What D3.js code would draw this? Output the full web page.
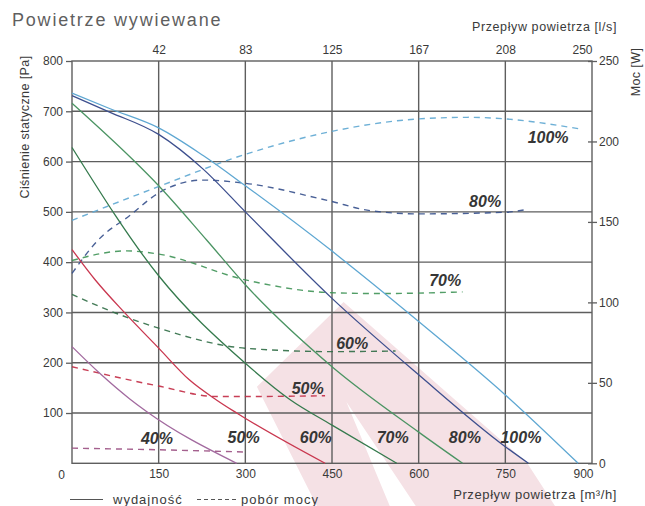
<!DOCTYPE html>
<html><head><meta charset="utf-8">
<script src="https://cdn.jsdelivr.net/npm/d3@7"></script>
<style>
html,body{margin:0;padding:0;background:#fff;}
svg{display:block;font-family:"Liberation Sans",Arial,sans-serif;}
</style></head>
<body>
<svg id="chart" width="645" height="506"></svg>
<script>
// ---- data ----
const flowTicks = [150, 300, 450, 600, 750, 900];            // m3/h
const flowLabels = ["150", "300", "450", "600", "750", "900"];
const lsLabels = ["42", "83", "125", "167", "208", "250"];    // l/s
const pressureTicks = [0, 100, 200, 300, 400, 500, 600, 700, 800];
const powerTicks = [0, 50, 100, 150, 200, 250];
const speeds = ["100%", "80%", "70%", "60%", "50%", "40%"];

// static pressure curves [flow m3/h, Pa]
const pres100 = [[0,736],[66,705],[150,667],[227,612],[300,552],[450,422],[498,378],[600,282],[750,136],[876,0]];
const pres80  = [[0,731],[66,698],[150,654],[227,585],[300,500],[450,328],[600,176],[750,33],[790,0]];
const pres70  = [[0,716],[106,603],[150,552],[233,444],[300,355],[450,192],[600,62],[676,0]];
const pres60  = [[0,628],[150,373],[300,199],[377,127],[450,76],[562,0]];
const pres50  = [[0,425],[40,365],[89,302],[150,229],[203,166],[250,126],[285,100],[438,0]];
const pres40  = [[0,232],[48,179],[100,128],[129,103],[285,0]];

// power consumption curves [flow m3/h, W]
const pow100 = [[0,151],[150,172],[300,192],[446,206],[600,214],[690,215],[750,214],[876,208]];
const pow80  = [[0,118],[46,139],[100,154],[150,168],[227,176],[300,174],[446,163],[516,157],[600,155],[750,156],[790,158]];
const pow70  = [[0,126],[94,132],[150,130],[300,114],[450,106],[533,105.5],[676,106.5]];
const pow60  = [[0,105],[71,94],[150,84],[300,71.5],[450,69.4],[560,69.8]];
const pow50  = [[0,60],[150,48],[250,41.5],[300,41.5],[438,42]];
const pow40  = [[0,9.4],[150,8.4],[300,7]];

// label anchors [flow, value]
const presLabelPos = [[777,53],[680,53],[555,53],[422,53],[297,53],[147,50]];
const powLabelPos  = [[824,203],[715,163],[646,114],[485,75],[408,47]];

// decorative watermark outline, in data units [flow, Pa]
const watermark = [[320,152],[470,321],[788,0],[836,-85],[595,-85],[475,122],[550,-85],[424,-85]];

// ---- drawing ----
const svg = d3.select("#chart");
const L = 72, R = 592, T = 61, B = 463.3;
const x = d3.scaleLinear().domain([0, 900]).range([L, R]);
const y = d3.scaleLinear().domain([0, 800]).range([B, T]);
const yW = d3.scaleLinear().domain([0, 250]).range([B, T]);

const cols = {"100%":"#5ea7d2","80%":"#3d4f8e","70%":"#4b9463","60%":"#357a4d","50%":"#c9374f","40%":"#a26a9f"};
const powCols = {"100%":"#5ea7d2","80%":"#36508c","70%":"#3f9457","60%":"#2f6d45","50%":"#c22a44","40%":"#9a4f82"};

// watermark
const wmPath = d3.line().x(d => x(d[0])).y(d => y(d[1]));
svg.append("path").attr("d", wmPath(watermark) + "Z").attr("fill", "#f5e1e5");

// grid
const grid = svg.append("g").attr("stroke", "#5e5e5e").attr("stroke-width", 1.4);
flowTicks.slice(0, -1).forEach(v => grid.append("line").attr("x1", x(v)).attr("x2", x(v)).attr("y1", T).attr("y2", B));
pressureTicks.slice(1, -1).forEach(v => grid.append("line").attr("x1", L).attr("x2", R).attr("y1", y(v)).attr("y2", y(v)));
svg.append("rect").attr("x", L).attr("y", T).attr("width", R - L).attr("height", B - T)
  .attr("fill", "none").attr("stroke", "#5e5e5e").attr("stroke-width", 1.4);

// curves
const line = (ys) => d3.line().x(d => x(d[0])).y(d => ys(d[1])).curve(d3.curveMonotoneX);
const presSets = [pres100, pres80, pres70, pres60, pres50, pres40];
const powSets = [pow100, pow80, pow70, pow60, pow50, pow40];
const curves = svg.append("g").attr("fill", "none");
powSets.forEach((s, i) => curves.append("path").attr("d", line(yW)(s))
  .attr("stroke", powCols[speeds[i]]).attr("stroke-width", 1.4).attr("stroke-dasharray", "6,5").attr("opacity", 0.9));
presSets.forEach((s, i) => curves.append("path").attr("d", line(y)(s))
  .attr("stroke", cols[speeds[i]]).attr("stroke-width", 1.3));

// percentage labels
const lab = svg.append("g").attr("font-size", 16).attr("font-weight", "bold").attr("font-style", "italic")
  .attr("fill", "#363636").attr("text-anchor", "middle");
presLabelPos.forEach((p, i) => lab.append("text").attr("x", x(p[0])).attr("y", y(p[1]) + 6).text(speeds[i]));
powLabelPos.forEach((p, i) => lab.append("text").attr("x", x(p[0])).attr("y", yW(p[1]) + 6).text(speeds[i]));

// axes
const tickFont = g => g.selectAll("text").attr("font-size", 12).attr("fill", "#3a3a3a")
  .attr("font-family", "Liberation Sans, Arial, sans-serif");
const axL = svg.append("g").attr("transform", `translate(${L},0)`)
  .call(d3.axisLeft(y).tickValues(pressureTicks).tickSize(6).tickPadding(3).tickFormat(d3.format("d")));
axL.select(".domain").remove();
axL.selectAll("line").attr("stroke", "#5e5e5e").attr("stroke-width", 1.3);
axL.selectAll(".tick").filter(d => d === 0).select("line").remove();
axL.selectAll(".tick").filter(d => d === 0).select("text").attr("dy", "1.25em").attr("x", -7);
tickFont(axL);

const axB = svg.append("g").attr("transform", `translate(0,${B})`)
  .call(d3.axisBottom(x).tickValues(flowTicks).tickSize(0).tickPadding(6).tickFormat((d, i) => flowLabels[i]));
axB.select(".domain").remove();
tickFont(axB);
axB.selectAll(".tick").filter(d => d === 900).select("text").attr("text-anchor", "end").attr("x", 1);

const axT = svg.append("g").attr("transform", `translate(0,${T})`)
  .call(d3.axisTop(x).tickValues(flowTicks).tickSize(0).tickPadding(7).tickFormat((d, i) => lsLabels[i]));
axT.select(".domain").remove();
tickFont(axT);
axT.selectAll(".tick").filter(d => d === 900).select("text").attr("text-anchor", "end").attr("x", 0);

const axR = svg.append("g").attr("transform", `translate(${R},0)`)
  .call(d3.axisRight(yW).tickValues(powerTicks).tickSize(5).tickPadding(2).tickFormat(d3.format("d")));
axR.select(".domain").remove();
axR.selectAll("line").attr("x1", -4).attr("stroke", "#5e5e5e").attr("stroke-width", 1.3);
tickFont(axR);

// titles
svg.append("text").attr("x", 12).attr("y", 26).attr("font-size", 18).attr("fill", "#5f5f5f")
  .attr("letter-spacing", 1.8).text("Powietrze wywiewane");
svg.append("text").attr("x", 617).attr("y", 31).attr("text-anchor", "end").attr("font-size", 12.5)
  .attr("fill", "#3a3a3a").attr("letter-spacing", 0.6).text("Przepływ powietrza [l/s]");
svg.append("text").attr("x", 617).attr("y", 499).attr("text-anchor", "end").attr("font-size", 13)
  .attr("fill", "#3a3a3a").attr("letter-spacing", 0.6).text("Przepływ powietrza [m³/h]");
svg.append("text").attr("transform", "translate(29,127) rotate(-90)").attr("text-anchor", "middle")
  .attr("font-size", 12.5).attr("fill", "#3a3a3a").attr("letter-spacing", 0.4).text("Ciśnienie statyczne [Pa]");
svg.append("text").attr("transform", "translate(640,72) rotate(-90)").attr("text-anchor", "middle")
  .attr("font-size", 12.5).attr("fill", "#3a3a3a").attr("letter-spacing", 0.4).text("Moc [W]");

// legend
const lg = svg.append("g");
lg.append("line").attr("x1", 70).attr("x2", 103).attr("y1", 499.5).attr("y2", 499.5).attr("stroke", "#555").attr("stroke-width", 1.2);
lg.append("text").attr("x", 113).attr("y", 504).attr("font-size", 13).attr("fill", "#3a3a3a").attr("letter-spacing", 1).text("wydajność");
lg.append("line").attr("x1", 197).attr("x2", 237).attr("y1", 499.5).attr("y2", 499.5).attr("stroke", "#555")
  .attr("stroke-width", 1.2).attr("stroke-dasharray", "4,3");
lg.append("text").attr("x", 241).attr("y", 504).attr("font-size", 13).attr("fill", "#3a3a3a").attr("letter-spacing", 1).text("pobór mocy");
</script>
</body></html>
